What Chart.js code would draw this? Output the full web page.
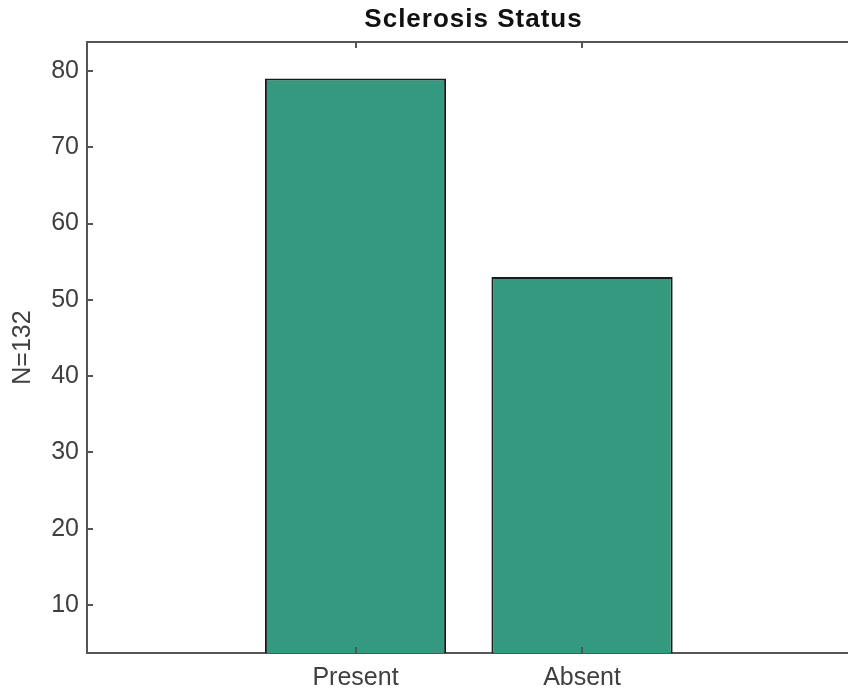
<!DOCTYPE html>
<html>
<head>
<meta charset="utf-8">
<script src="https://cdn.jsdelivr.net/npm/chart.js@4"></script>
<style>
  html, body { margin: 0; padding: 0; background: #fff; overflow: hidden; }
  #wrap { width: 870px; height: 693px; }
</style>
</head>
<body>
<div id="wrap"><canvas id="chart"></canvas></div>
<script>
// data
const categories = ['Present', 'Absent'];
const counts = [79, 53];
const yTickValues = [10, 20, 30, 40, 50, 60, 70, 80];
const chartTitle = 'Sclerosis Status';
const yLabel = 'N=132';

const font = "'Liberation Sans', Arial, sans-serif";
const axisColor = '#555555';
const textColor = '#404040';

// title + inside tick marks (matlab style box)
const framePlugin = {
  id: 'frame',
  afterDatasetsDraw(chart) {
    const { ctx, chartArea, scales } = chart;
    ctx.save();
    ctx.strokeStyle = axisColor;
    ctx.lineWidth = 2;
    ctx.beginPath();
    scales.x.ticks.forEach(t => {
      const px = Math.round(scales.x.getPixelForValue(t.value));
      ctx.moveTo(px, chartArea.bottom);
      ctx.lineTo(px, chartArea.bottom - 6);
      ctx.moveTo(px, chartArea.top);
      ctx.lineTo(px, chartArea.top + 6);
    });
    scales.y.ticks.forEach(t => {
      const py = Math.round(scales.y.getPixelForValue(t.value));
      ctx.moveTo(chartArea.left, py);
      ctx.lineTo(chartArea.left + 6, py);
    });
    ctx.stroke();

    ctx.fillStyle = '#111';
    ctx.font = 'bold 26px ' + font;
    ctx.letterSpacing = '1px';
    ctx.textAlign = 'center';
    ctx.textBaseline = 'alphabetic';
    ctx.fillText(chartTitle, (chartArea.left + chartArea.right) / 2, 27);
    ctx.restore();
  }
};

new Chart(document.getElementById('chart'), {
  type: 'bar',
  data: {
    datasets: [{
      data: counts.map((v, i) => ({ x: i + 1, y: v })),
      backgroundColor: '#35997f',
      borderColor: '#1a1a1a',
      borderWidth: 2,
      borderSkipped: false,
      categoryPercentage: 1,
      barPercentage: 0.8
    }]
  },
  options: {
    responsive: true,
    maintainAspectRatio: false,
    animation: false,
    layout: { padding: { top: 0, left: 0, right: 10, bottom: 0 } },
    plugins: {
      legend: { display: false },
      tooltip: { enabled: false },
      title: { display: false }
    },
    scales: {
      x: {
        type: 'linear',
        offset: false,
        min: -0.1854,
        max: 3.227,
        afterBuildTicks: s => { s.ticks = categories.map((c, i) => ({ value: i + 1 })); },
        afterFit: s => { s.height = 40; },
        grid: { drawOnChartArea: false, drawTicks: false, offset: false },
        border: { color: axisColor, width: 2 },
        ticks: {
          callback: v => categories[v - 1],
          color: textColor,
          font: { family: font, size: 25 },
          padding: 10,
          maxRotation: 0
        }
      },
      x2: {
        type: 'linear',
        position: 'top',
        offset: false,
        min: -0.1854,
        max: 3.227,
        afterFit: s => { s.height = 42; },
        grid: { drawOnChartArea: false, drawTicks: false },
        border: { color: axisColor, width: 2 },
        ticks: { display: false }
      },
      y: {
        min: 3.7,
        max: 83.8,
        afterBuildTicks: s => { s.ticks = yTickValues.map(v => ({ value: v })); },
        afterFit: s => { s.width = 87; },
        grid: { drawOnChartArea: false, drawTicks: false },
        border: { color: axisColor, width: 2 },
        ticks: {
          color: textColor,
          font: { family: font, size: 25 },
          padding: 8
        },
        title: {
          display: true,
          text: yLabel,
          color: textColor,
          font: { family: font, size: 25 },
          padding: { top: 8, bottom: 0 }
        }
      }
    }
  },
  plugins: [framePlugin]
});
</script>
</body>
</html>
